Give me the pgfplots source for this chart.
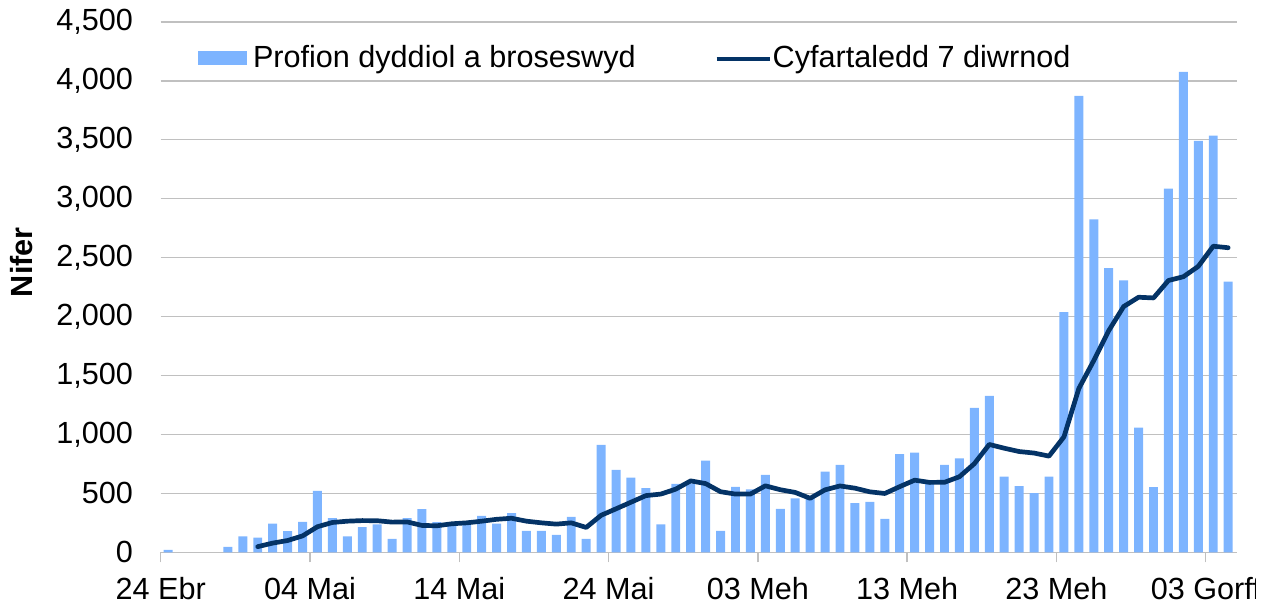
\documentclass[border=0pt]{standalone}
\usepackage{pgfplots}
\pgfplotsset{compat=1.18}
\usepackage{fontspec}
\setmainfont{Liberation Sans}
\definecolor{barblue}{RGB}{125,180,255}
\definecolor{navy}{RGB}{4,51,102}
\definecolor{gridgrey}{RGB}{192,192,192}
\begin{document}
\begin{tikzpicture}
\begin{axis}[
  name=ax,
  scale only axis,
  width=538.2pt, height=265.2pt,
  xmin=-0.5, xmax=71.6, ymin=0, ymax=4500,
  axis x line*=bottom, axis y line*=left,
  x axis line style={-, gridgrey, line width=0.7pt},
  y axis line style={draw=none},
  ytick={0,500,...,4500},
  ymajorgrids,
  grid style={gridgrey, line width=0.7pt},
  ytick style={draw=none},
  xtick={-0.5,9.5,...,69.5},
  xticklabels={24 Ebr,04 Mai,14 Mai,24 Mai,03 Meh,13 Meh,23 Meh,03 Gorff},
  xtick style={gridgrey, line width=0.7pt},
  tick align=outside,
  major tick length=5pt,
  tick label style={font=\fontsize{15.3}{18}\selectfont, text=black},
  yticklabel style={anchor=east, inner sep=0pt, xshift=-8.7pt},
  xticklabel style={anchor=north, inner sep=0pt, yshift=-7.3pt},
  /pgf/number format/.cd, 1000 sep={,}, assume math mode=true,
  /pgfplots/.cd,
  ylabel={\bfseries Nifer},
  ylabel style={at={(rel axis cs:0,0.547)}, yshift=69.6pt, anchor=center, font=\fontsize{15.3}{18}\selectfont},
  legend columns=2,
  legend style={at={(axis description cs:0,1)}, anchor=west, xshift=18.65pt, yshift=-18.2pt,
    draw=none, fill=none, inner sep=0pt, outer sep=0pt,
    font=\fontsize{15.3}{18}\selectfont,
    nodes={inner sep=0pt},
    /tikz/every odd column/.append style={column sep=3pt},
    /tikz/every even column/.append style={column sep=40.5pt}},
  legend cell align=left,
]
\addplot[ybar, bar width=0.6, bar shift=0pt, fill=barblue, draw=none,
  legend image code/.code={\fill[barblue] (0pt,-3.25pt) rectangle (24.5pt,3.75pt);}]
coordinates {
(0,20) (4,47) (5,136) (6,125) (7,244) (8,180) (9,258) (10,522) (11,290) (12,136)
(13,214) (14,236) (15,114) (16,289) (17,367) (18,256) (19,230) (20,245) (21,308) (22,244)
(23,333) (24,181) (25,181) (26,147) (27,300) (28,114) (29,911) (30,700) (31,633) (32,544)
(33,236) (34,581) (35,585) (36,778) (37,181) (38,556) (39,533) (40,656) (41,369) (42,458)
(43,460) (44,685) (45,741) (46,417) (47,428) (48,283) (49,834) (50,845) (51,588) (52,741)
(53,797) (54,1226) (55,1327) (56,642) (57,562) (58,503) (59,641) (60,2038) (61,3873) (62,2824)
(63,2410) (64,2306) (65,1058) (66,553) (67,3086) (68,4075) (69,3491) (70,3535) (71,2297)
};
\addlegendentry{Profion dyddiol a broseswyd}
\addplot[navy, line width=2.35pt, line join=round, line cap=round, mark=none,
  legend image code/.code={\path[draw=none, fill=none] (0pt,-3.25pt) rectangle (25pt,3.75pt);
    \draw[overlay, navy, line width=2.35pt, line cap=butt] (0pt,-0.3pt) -- (26.5pt,-0.3pt);}]
coordinates {
(6,48) (7,78) (8,100) (9,139) (10,217) (11,253) (12,264) (13,269) (14,268) (15,256)
(16,258) (17,228) (18,225) (19,242) (20,250) (21,264) (22,280) (23,289) (24,264) (25,250)
(26,239) (27,250) (28,211) (29,314) (30,369) (31,425) (32,481) (33,494) (34,536) (35,606)
(36,583) (37,514) (38,494) (39,494) (40,564) (41,531) (42,508) (43,458) (44,530) (45,563)
(46,544) (47,513) (48,499) (49,557) (50,612) (51,593) (52,594) (53,641) (54,752) (55,915)
(56,883) (57,855) (58,842) (59,816) (60,979) (61,1390) (62,1627) (63,1880) (64,2085) (65,2164)
(66,2158) (67,2306) (68,2338) (69,2426) (70,2597) (71,2584)
};
\addlegendentry{Cyfartaledd 7 diwrnod}
\end{axis}
% the reference cuts the last date label at the right edge of its chart area
\fill[white] ([shift={(547.65pt,-25.85pt)}]ax.south west) rectangle ([shift={(558.15pt,-4pt)}]ax.south west);
\pgfresetboundingbox
\path[use as bounding box] ([shift={(-80.35pt,-25.85pt)}]ax.south west) rectangle ++(638.5pt,302pt);
\end{tikzpicture}
\end{document}
